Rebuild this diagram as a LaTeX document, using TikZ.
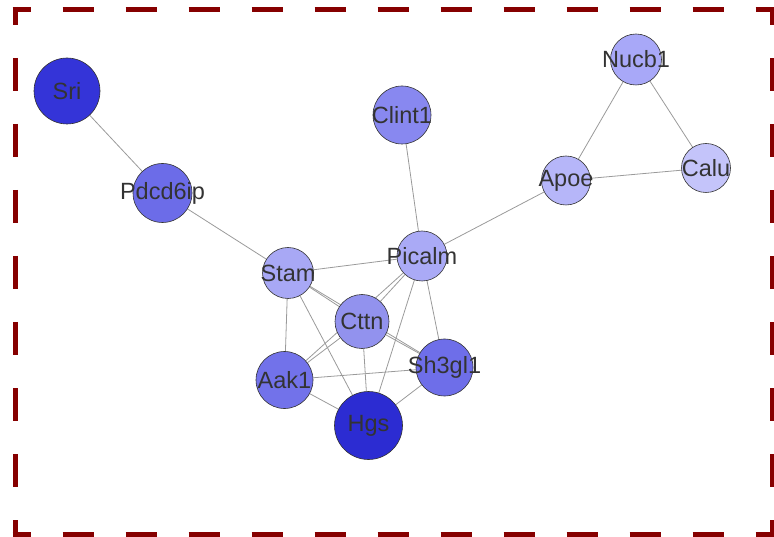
\documentclass[tikz,border=0pt]{standalone}
\usepackage{fontspec}
\setsansfont{Liberation Sans}
\usetikzlibrary{backgrounds}

\definecolor{framered}{HTML}{860000}
\definecolor{edgegray}{HTML}{9A9A9A}
\definecolor{textgray}{HTML}{333333}
\definecolor{srifill}{RGB}{52,52,216}
\definecolor{hgsfill}{RGB}{44,44,210}
\definecolor{pdcdfill}{RGB}{108,108,232}
\definecolor{aakfill}{RGB}{114,114,234}
\definecolor{shfill}{RGB}{110,110,233}
\definecolor{clintfill}{RGB}{136,136,240}
\definecolor{cttnfill}{RGB}{146,146,238}
\definecolor{stamfill}{RGB}{168,168,245}
\definecolor{picalmfill}{RGB}{170,170,246}
\definecolor{nucbfill}{RGB}{168,168,248}
\definecolor{apoefill}{RGB}{182,182,249}
\definecolor{calufill}{RGB}{196,196,250}

\begin{document}
\begin{tikzpicture}[x=1pt, y=-1pt,
    gene/.style={circle, draw=textgray, line width=0.6pt, inner sep=0pt},
    genetext/.style={text=textgray, inner sep=0pt, font=\sffamily\fontsize{23.5}{26}\selectfont},
    link/.style={draw=edgegray, line width=0.8pt},
    frameline/.style={draw=framered, line width=5pt}]
    \useasboundingbox (0,0) rectangle (774,537);

    % the dashed frame, one side at a time
    \draw[frameline, dash pattern=on 31.5pt off 31.5pt, dash phase=13pt] (12.5,9.5) -- (775,9.5);
    \draw[frameline, dash pattern=on 31.5pt off 31.5pt, dash phase=13pt] (12.5,534.5) -- (775,534.5);
    \draw[frameline, dash pattern=on 33pt off 33pt, dash phase=15pt] (15,7) -- (15,537);
    \draw[frameline, dash pattern=on 33pt off 33pt, dash phase=15pt] (772.5,7) -- (772.5,537);

    % the genes
    \node[gene, fill=srifill, minimum size=66pt, label={[genetext]center:Sri}] (sri) at (67,91) {};
    \node[gene, fill=pdcdfill, minimum size=59pt, label={[genetext]center:Pdcd6ip}] (pdcd) at (162.5,193) {};
    \node[gene, fill=clintfill, minimum size=58pt, label={[genetext]center:Clint1}] (clint) at (402,115) {};
    \node[gene, fill=nucbfill, minimum size=51pt, label={[genetext]center:Nucb1}] (nucb) at (636,59.5) {};
    \node[gene, fill=calufill, minimum size=49pt, label={[genetext]center:Calu}] (calu) at (706,168) {};
    \node[gene, fill=apoefill, minimum size=49pt, label={[genetext]center:Apoe}] (apoe) at (566,180.5) {};
    \node[gene, fill=picalmfill, minimum size=50pt, label={[genetext]center:Picalm}] (picalm) at (422,256) {};
    \node[gene, fill=stamfill, minimum size=51pt, label={[genetext]center:Stam}] (stam) at (288,273) {};
    \node[gene, fill=cttnfill, minimum size=54pt, label={[genetext]center:Cttn}] (cttn) at (362,321.5) {};
    \node[gene, fill=aakfill, minimum size=57pt, label={[genetext]center:Aak1}] (aak) at (284.5,380) {};
    \node[gene, fill=shfill, minimum size=57pt, label={[genetext]center:Sh3gl1}] (sh) at (444.5,367.5) {};
    \node[gene, fill=hgsfill, minimum size=68pt, label={[genetext]center:Hgs}] (hgs) at (368.5,425.5) {};

    % the interactions, behind the genes
    \begin{scope}[on background layer]
        \foreach \a/\b in {sri/pdcd, pdcd/stam, clint/picalm, picalm/apoe, apoe/nucb, nucb/calu,
                apoe/calu, stam/picalm, stam/cttn, stam/sh, stam/aak, stam/hgs, picalm/cttn,
                picalm/aak, picalm/hgs, picalm/sh, cttn/aak, cttn/sh, cttn/hgs, aak/sh,
                aak/hgs, sh/hgs}
            \draw[link] (\a) -- (\b);
    \end{scope}
\end{tikzpicture}
\end{document}
